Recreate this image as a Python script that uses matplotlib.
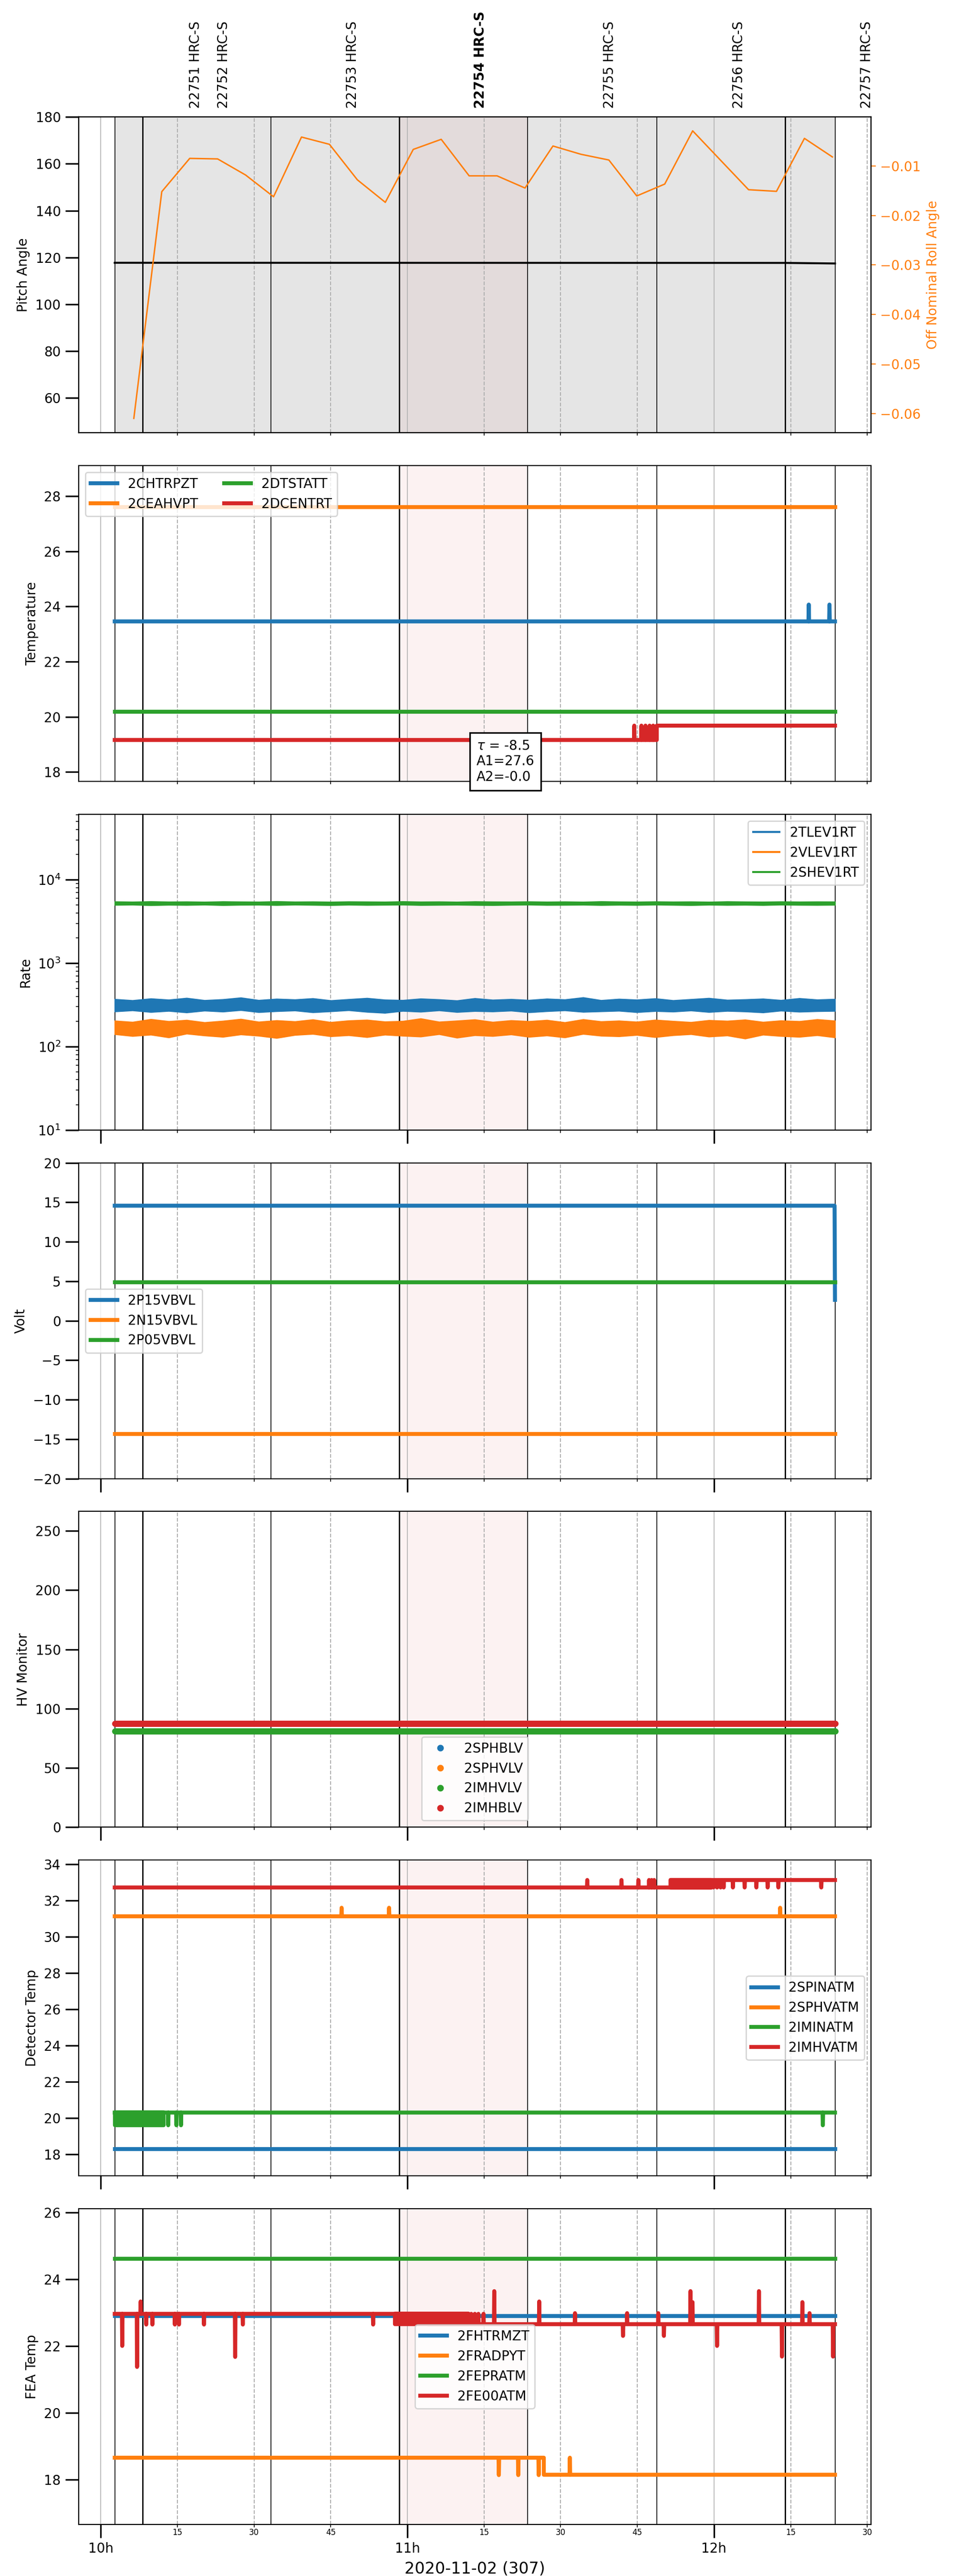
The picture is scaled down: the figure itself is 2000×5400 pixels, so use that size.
import matplotlib
matplotlib.use("Agg")
import matplotlib.pyplot as plt
import matplotlib.dates as mdates
from matplotlib.transforms import blended_transform_factory
from datetime import datetime, timedelta

BASE = datetime(2020, 11, 2, 10, 0)

# all times are minutes after 10:00 on 2020-11-02
T_START = 2.73
T_END = 143.68

BOUND_THIN = [2.73, 33.33, 83.54, 108.78, 143.68]
BOUND_THICK = [8.19, 58.44, 133.93]
HILITE = [58.44, 83.54]

OBSIDS = ["22751", "22752", "22753", "22754", "22755", "22756", "22757"]
OBSID_LABEL_T = [18.57, 24.05, 49.28, 74.27, 99.62, 124.85, 149.85]
TARGET_OBSID = "22754"

# panel 1: pitch / roll
PITCH_T = [2.73, 133.93, 143.68]
PITCH_V = [117.75, 117.7, 117.45]
ROLL_T = [6.47, 11.94, 17.41, 22.87, 28.34, 33.81, 39.28, 44.75, 50.21, 55.68,
          61.15, 66.62, 72.09, 77.55, 83.02, 88.49, 93.96, 99.43, 104.89, 110.36,
          115.83, 121.30, 126.77, 132.23, 137.70, 143.17]
ROLL_V = [-0.0610, -0.01519, -0.00847, -0.00858, -0.01183, -0.01622, -0.00416,
          -0.00563, -0.01280, -0.01735, -0.00666, -0.00462, -0.01200, -0.01200,
          -0.01446, -0.00597, -0.00764, -0.00880, -0.01606, -0.01366, -0.00291,
          -0.00886, -0.01480, -0.01513, -0.00443, -0.00818]

# panel 2: temperatures
CHTRPZT_STEP = [(2.73, 23.46)]
CHTRPZT_SPK_T = [138.55, 142.6]
CHTRPZT_SPK_V = [24.07, 24.07]
CEAHVPT_STEP = [(2.73, 27.61)]
DTSTATT_STEP = [(2.73, 20.19)]
DCENTRT_STEP = [(2.73, 19.16), (108.8, 19.68)]
DCENTRT_SPK_T = [104.4, 105.8, 106.6, 107.4, 108.1]
DCENTRT_SPK_V = [19.68, 19.68, 19.68, 19.68, 19.68]
TAU, A1, A2 = -8.5, 27.6, -0.0

# panel 3: rates (upper / lower edge of the noisy band)
ENV_T = [2.7, 6.2, 9.8, 13.3, 16.8, 20.3, 23.9, 27.4, 30.9, 34.4, 38.0, 41.5,
         45.0, 48.5, 52.1, 55.6, 59.1, 62.6, 66.2, 69.7, 73.2, 76.7, 80.3, 83.8,
         87.3, 90.8, 94.4, 97.9, 101.4, 104.9, 108.5, 112.0, 115.5, 119.0, 122.6,
         126.1, 129.6, 133.1, 136.7, 140.2, 143.7]
TLEV1RT_HI = [372, 360, 378, 366, 384, 361, 370, 388, 362, 375, 368, 380, 359, 371,
              383, 366, 362, 377, 369, 358, 381, 365, 372, 363, 376, 368, 390, 361,
              374, 366, 379, 360, 371, 383, 364, 369, 376, 362, 381, 367, 373]
TLEV1RT_LO = [262, 270, 258, 266, 255, 268, 261, 272, 257, 264, 269, 256, 263, 271,
              259, 252, 266, 260, 270, 258, 265, 262, 268, 256, 264, 270, 259, 263,
              267, 257, 265, 261, 269, 258, 266, 262, 255, 268, 260, 264, 266]
VLEV1RT_HI = [205, 198, 214, 202, 209, 196, 204, 215, 199, 207, 201, 212, 197, 206,
              210, 200, 203, 218, 199, 205, 212, 198, 207, 202, 209, 196, 213, 201,
              205, 199, 210, 203, 197, 208, 204, 211, 198, 206, 202, 213, 205]
VLEV1RT_LO = [140, 133, 138, 128, 142, 135, 130, 139, 134, 126, 137, 141, 132, 136,
              129, 138, 134, 131, 140, 127, 136, 133, 139, 130, 135, 128, 141, 134,
              132, 137, 129, 136, 140, 131, 135, 124, 138, 133, 130, 136, 128]
SHEV1RT_HI = [5500, 5460, 5520, 5470, 5490, 5450, 5510, 5480, 5460, 5530, 5470,
              5490, 5450, 5500, 5480, 5460, 5520, 5470, 5490, 5450, 5510, 5480,
              5470, 5500, 5460, 5490, 5450, 5520, 5480, 5460, 5500, 5470, 5490,
              5450, 5510, 5480, 5460, 5500, 5470, 5490, 5480]
SHEV1RT_LO = [4960, 4990, 4920, 4970, 4950, 4990, 4930, 4970, 4980, 4940, 4990,
              4960, 4930, 4980, 4950, 4970, 4990, 4940, 4960, 4980, 4950, 4930,
              4970, 4990, 4950, 4960, 4980, 4940, 4970, 4950, 4990, 4960, 4930,
              4980, 4950, 4970, 4940, 4990, 4960, 4950, 4970]

# panel 4: voltages
P15VBVL_T = [2.73, 143.6, 143.68]
P15VBVL_V = [14.57, 14.57, 2.64]
N15VBVL_STEP = [(2.73, -14.35)]
P05VBVL_STEP = [(2.73, 4.86)]

# panel 5: HV monitor (2SPHBLV and 2SPHVLV have no samples)
IMHVLV_V = 81.1
IMHBLV_V = 87.3

# panel 6: detector temps
SPINATM_STEP = [(2.73, 18.30)]
SPHVATM_STEP = [(2.73, 31.13)]
SPHVATM_SPK_T = [47.13, 56.42, 132.95]
SPHVATM_SPK_V = [31.60, 31.60, 31.60]
IMINATM_STEP = [(2.73, 20.31)]
IMINATM_SPK_T = [13.2, 14.8, 15.7, 141.3]
IMINATM_SPK_V = [19.61, 19.61, 19.61, 19.61]
IMINATM_BLOCK = (2.8, 12.3, 19.61, 20.31)
IMHVATM_STEP = [(2.73, 32.72), (111.5, 33.13)]
IMHVATM_SPK_T = [95.2, 101.9, 105.2, 107.3, 107.8, 108.3,
                 119.9, 120.6, 121.3, 121.9, 123.7, 126.0, 128.3, 130.5, 132.6, 141.0]
IMHVATM_SPK_V = [33.13, 33.13, 33.13, 33.13, 33.13, 33.13,
                 32.72, 32.72, 32.72, 32.72, 32.72, 32.72, 32.72, 32.72, 32.72, 32.72]
IMHVATM_BLOCK = (111.5, 119.5, 32.72, 33.13)

# panel 7: FEA temps
FHTRMZT_STEP = [(2.73, 22.89)]
FRADPYT_STEP = [(2.73, 18.65), (86.7, 18.14)]
FRADPYT_SPK_T = [77.9, 81.7, 85.7, 91.8]
FRADPYT_SPK_V = [18.13, 18.13, 18.13, 18.65]
FEPRATM_STEP = [(2.73, 24.61)]
FE00ATM_STEP = [(2.73, 22.96), (64.0, 22.65)]
FE00ATM_SPK_T = [4.2, 7.1, 7.8, 8.9, 10.1, 14.5, 15.3, 20.2, 26.3, 27.8, 53.3,
                 72.5, 73.2, 73.9, 74.9, 77.0, 85.8, 92.8, 102.2, 103.0, 109.1,
                 110.2, 115.4, 115.8, 120.6, 128.8, 133.3, 137.3, 138.7, 143.3]
FE00ATM_SPK_V = [22.0, 21.37, 23.33, 22.64, 22.64, 22.64, 22.64, 22.64, 21.67,
                 22.64, 22.64, 22.96, 22.96, 22.96, 22.96, 23.64, 23.33, 22.98,
                 22.3, 22.98, 22.98, 22.3, 23.64, 23.31, 22.0, 23.64, 21.68,
                 23.31, 22.98, 21.68]
FE00ATM_BLOCK = (57.6, 71.9, 22.65, 22.96)

C_BLUE, C_ORANGE, C_GREEN, C_RED = "tab:blue", "tab:orange", "tab:green", "tab:red"


def mins(ts):
    return [BASE + timedelta(minutes=float(t)) for t in ts]


def trace(steps, spk_t=(), spk_v=(), w=0.06):
    pts = []
    for i, (t0, v) in enumerate(steps):
        t1 = steps[i + 1][0] if i + 1 < len(steps) else T_END
        pts += [(t0, v), (t1, v)]
    for ts, vs in zip(spk_t, spk_v):
        base = [v for t0, v in steps if t0 <= ts][-1]
        pts += [(ts - w, base), (ts, vs), (ts + w, base)]
    pts.sort(key=lambda p: p[0])
    return mins([p[0] for p in pts]), [p[1] for p in pts]


def block(ax, blk, color):
    t0, t1, lo, hi = blk
    ax.fill_between(mins([t0, t1]), [lo, lo], [hi, hi], color=color, lw=3, zorder=2)


fig, axes = plt.subplots(7, 1, figsize=(10, 27), dpi=200, sharex=True)
fig.subplots_adjust(left=0.0825, right=0.913, top=0.9546, bottom=0.020, hspace=0.104)

span = T_END - T_START
for i, ax in enumerate(axes):
    ax.axvspan(*mins(HILITE), color=C_RED, alpha=0.06, lw=0)
    for t in BOUND_THIN:
        ax.axvline(mins([t])[0], color="k", lw=0.6, zorder=1.8)
    for t in BOUND_THICK:
        ax.axvline(mins([t])[0], color="k", lw=1.0, zorder=1.8)
    ax.grid(True, which="major", axis="x", color="#b0b0b0", lw=0.6)
    ax.grid(True, which="minor", axis="x", color="#b0b0b0", ls="--", lw=0.75)
    ax.tick_params(axis="both", which="major", length=10, width=1.2)
    if i < 2:
        ax.tick_params(axis="x", which="major", length=0)

# ---- panel 1
ax1 = axes[0]
ax1.axvspan(*mins([T_START, T_END]), color="gray", alpha=0.2, lw=0)
ax1.plot(mins(PITCH_T), PITCH_V, color="k", lw=1.5)
ax1.set_ylim(45.2, 180)
ax1.set_ylabel("Pitch Angle")
ax1r = ax1.twinx()
ax1r.plot(mins(ROLL_T), ROLL_V, color=C_ORANGE, lw=1.1)
ax1r.set_ylim(-0.0639, -0.0001)
ax1r.set_ylabel("Off Nominal Roll Angle", color=C_ORANGE)
ax1r.tick_params(axis="y", colors=C_ORANGE)
tr = blended_transform_factory(ax1.transData, ax1.transAxes)
for obs, t in zip(OBSIDS, OBSID_LABEL_T):
    ax1.text(mdates.date2num(mins([t])[0]), 1.028, f"{obs} HRC-S", transform=tr,
             rotation=90, ha="center", va="bottom", fontsize=10,
             fontweight="bold" if obs == TARGET_OBSID else "normal")

# ---- panel 2
ax2 = axes[1]
ax2.plot(*trace(CHTRPZT_STEP, CHTRPZT_SPK_T, CHTRPZT_SPK_V), color=C_BLUE, lw=3, label="2CHTRPZT")
ax2.plot(*trace(CEAHVPT_STEP), color=C_ORANGE, lw=3, label="2CEAHVPT")
ax2.plot(*trace(DTSTATT_STEP), color=C_GREEN, lw=3, label="2DTSTATT")
ax2.plot(*trace(DCENTRT_STEP, DCENTRT_SPK_T, DCENTRT_SPK_V), color=C_RED, lw=3, label="2DCENTRT")
ax2.set_ylim(17.66, 29.11)
ax2.set_ylabel("Temperature")
ax2.legend(loc="upper left", ncol=2)
ax2.text(0.502, -0.0073, r"$\tau$ = " + f"{TAU}\nA1={A1}\nA2={A2:.1f}",
         transform=ax2.transAxes, ha="left", va="bottom", fontsize=10, zorder=5,
         bbox=dict(boxstyle="square,pad=0.5", fc="white", ec="black", lw=1.2))

# ---- panel 3
ax3 = axes[2]
for hi, lo, c, name in [(TLEV1RT_HI, TLEV1RT_LO, C_BLUE, "2TLEV1RT"),
                        (VLEV1RT_HI, VLEV1RT_LO, C_ORANGE, "2VLEV1RT"),
                        (SHEV1RT_HI, SHEV1RT_LO, C_GREEN, "2SHEV1RT")]:
    ax3.fill_between(mins(ENV_T), lo, hi, color=c, lw=0.5, zorder=2)
    ax3.plot([], [], color=c, lw=1.5, label=name)
ax3.set_yscale("log")
ax3.set_ylim(10, 6.1e4)
ax3.set_ylabel("Rate")
ax3.legend(loc="upper right")

# ---- panel 4
ax4 = axes[3]
ax4.plot(mins(P15VBVL_T), P15VBVL_V, color=C_BLUE, lw=3, label="2P15VBVL")
ax4.plot(*trace(N15VBVL_STEP), color=C_ORANGE, lw=3, label="2N15VBVL")
ax4.plot(*trace(P05VBVL_STEP), color=C_GREEN, lw=3, label="2P05VBVL")
ax4.set_ylim(-20, 20)
ax4.set_ylabel("Volt")
ax4.legend(loc="center left")

# ---- panel 5
ax5 = axes[4]
ax5.plot(mins([T_START, T_END]), [IMHVLV_V, IMHVLV_V], color=C_GREEN, lw=4.7,
         solid_capstyle="round")
ax5.plot(mins([T_START, T_END]), [IMHBLV_V, IMHBLV_V], color=C_RED, lw=4.7,
         solid_capstyle="round")
for c, name in [(C_BLUE, "2SPHBLV"), (C_ORANGE, "2SPHVLV"),
                (C_GREEN, "2IMHVLV"), (C_RED, "2IMHBLV")]:
    ax5.plot([], [], "o", color=c, ms=4, label=name)
ax5.set_ylim(0, 266.3)
ax5.set_ylabel("HV Monitor")
ax5.legend(loc="lower center")

# ---- panel 6
ax6 = axes[5]
ax6.plot(*trace(SPINATM_STEP), color=C_BLUE, lw=3, label="2SPINATM")
ax6.plot(*trace(SPHVATM_STEP, SPHVATM_SPK_T, SPHVATM_SPK_V), color=C_ORANGE, lw=3, label="2SPHVATM")
ax6.plot(*trace(IMINATM_STEP, IMINATM_SPK_T, IMINATM_SPK_V), color=C_GREEN, lw=3, label="2IMINATM")
block(ax6, IMINATM_BLOCK, C_GREEN)
ax6.plot(*trace(IMHVATM_STEP, IMHVATM_SPK_T, IMHVATM_SPK_V), color=C_RED, lw=3, label="2IMHVATM")
block(ax6, IMHVATM_BLOCK, C_RED)
ax6.set_ylim(16.82, 34.23)
ax6.set_ylabel("Detector Temp")
ax6.legend(loc="center right")

# ---- panel 7
ax7 = axes[6]
ax7.plot(*trace(FHTRMZT_STEP), color=C_BLUE, lw=3, label="2FHTRMZT")
ax7.plot(*trace(FRADPYT_STEP, FRADPYT_SPK_T, FRADPYT_SPK_V), color=C_ORANGE, lw=3, label="2FRADPYT")
ax7.plot(*trace(FEPRATM_STEP), color=C_GREEN, lw=3, label="2FEPRATM")
ax7.plot(*trace(FE00ATM_STEP, FE00ATM_SPK_T, FE00ATM_SPK_V), color=C_RED, lw=3, label="2FE00ATM")
block(ax7, FE00ATM_BLOCK, C_RED)
ax7.set_ylim(16.65, 26.11)
ax7.set_ylabel("FEA Temp")
ax7.legend(loc="center")

ax7.xaxis.set_major_locator(mdates.HourLocator())
ax7.xaxis.set_major_formatter(mdates.DateFormatter("%Hh"))
ax7.xaxis.set_minor_locator(mdates.MinuteLocator(byminute=[15, 30, 45]))
ax7.xaxis.set_minor_formatter(mdates.DateFormatter("%M"))
ax7.tick_params(axis="x", which="minor", labelsize=6, length=2, pad=1)
ax7.set_xlim(mins([T_START - 0.05 * span, T_END + 0.05 * span]))
ax7.set_xlabel("2020-11-02 (307)", fontsize=12)

fig.savefig("out.png", dpi=200)
